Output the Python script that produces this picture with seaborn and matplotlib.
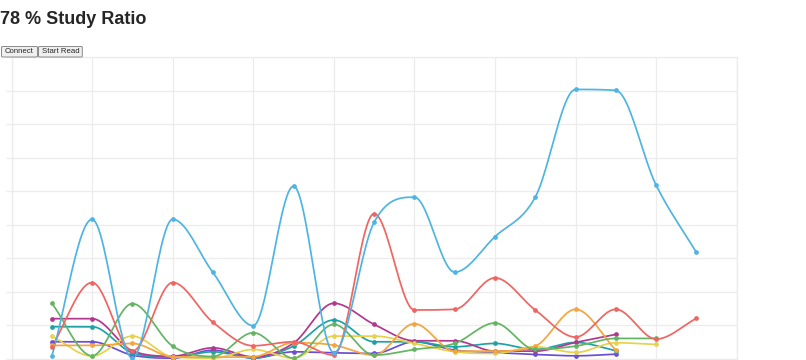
"""Study ratio chart: eight smoothed series on a light grid, with a page-like header."""

import matplotlib

matplotlib.use("Agg")

import matplotlib.pyplot as plt  # noqa: E402
import numpy as np  # noqa: E402
import pandas as pd  # noqa: E402
import seaborn as sns  # noqa: E402
from matplotlib.patches import FancyBboxPatch  # noqa: E402

TITLE = "78 % Study Ratio"
BUTTONS = ["Connect", "Start Read"]

# series values (one grid step = 10)
blue = [0.7, 41.6, 0.1, 41.6, 25.7, 9.8, 51.5, 1.7, 40.7, 48.2, 25.8, 36.4, 48.2, 80.4, 80.1, 51.8, 31.7]
red = [3.5, 22.7, 2.2, 22.7, 10.8, 3.8, 5.0, 1.0, 43.3, 14.5, 14.7, 24.1, 14.5, 6.4, 14.7, 5.8, 12.0]
green = [16.5, 0.8, 16.4, 3.7, 0.6, 7.7, 0.1, 10.2, 1.0, 2.7, 4.5, 10.6, 2.7, 3.7, 6.0, 6.0]
orange = [3.9, 3.9, 4.5, 0.5, 0.4, 0.5, 4.7, 4.0, 1.0, 10.4, 2.2, 2.2, 3.7, 14.7, 2.5]
yellow = [6.7, 0.7, 6.7, 0.5, 0.1, 2.7, 0.1, 6.7, 6.7, 4.5, 2.0, 1.5, 3.5, 1.8, 4.7, 4.2]
magenta = [11.9, 11.9, 2.3, 0.7, 3.2, 0.5, 4.6, 16.5, 10.2, 5.3, 5.3, 2.2, 2.2, 4.8, 7.2]
teal = [9.5, 9.5, 1.7, 0.4, 2.0, 0.2, 3.7, 11.5, 5.0, 5.0, 3.5, 4.5, 2.7, 4.8, 2.3]
violet = [5.0, 5.0, 1.0, 0.1, 2.5, 0.1, 2.0, 1.7, 1.5, 5.0, 2.5, 1.8, 1.2, 0.8, 1.3]

series = {
    "violet": violet,
    "teal": teal,
    "magenta": magenta,
    "yellow": yellow,
    "orange": orange,
    "green": green,
    "red": red,
    "blue": blue,
}
colors = {
    "blue": "#4fb4e2",
    "red": "#ef6562",
    "green": "#63b563",
    "orange": "#f5a53f",
    "yellow": "#e6d24c",
    "magenta": "#b2388e",
    "teal": "#1fa2a6",
    "violet": "#6a4ed6",
}


def monotone_tangents(y):
    """Fritsch-Carlson tangents, as used by monotone cubic interpolation."""
    y = np.asarray(y, dtype=float)
    d = np.diff(y)
    m = np.zeros(len(y))
    m[0], m[-1] = d[0], d[-1]
    for i in range(1, len(y) - 1):
        if d[i - 1] * d[i] > 0:
            m[i] = (d[i - 1] + d[i]) / 2
    for i in range(len(d)):
        if d[i] == 0:
            m[i] = m[i + 1] = 0
            continue
        a, b = m[i] / d[i], m[i + 1] / d[i]
        mag = a * a + b * b
        if mag > 9:
            tau = 3 / np.sqrt(mag)
            m[i], m[i + 1] = tau * a * d[i], tau * b * d[i]
    return m


def smooth(y, steps=24):
    y = np.asarray(y, dtype=float)
    m = monotone_tangents(y)
    xs, ys = [], []
    t = np.linspace(0, 1, steps, endpoint=False)
    for i in range(len(y) - 1):
        h00 = 2 * t**3 - 3 * t**2 + 1
        h10 = t**3 - 2 * t**2 + t
        h01 = -2 * t**3 + 3 * t**2
        h11 = t**3 - t**2
        xs.extend(i + t)
        ys.extend(h00 * y[i] + h10 * m[i] + h01 * y[i + 1] + h11 * m[i + 1])
    xs.append(len(y) - 1)
    ys.append(y[-1])
    return xs, ys


curve_rows, point_rows = [], []
for name, vals in series.items():
    cx, cy = smooth(vals)
    curve_rows.append(pd.DataFrame({"x": cx, "y": cy, "series": name}))
    point_rows.append(pd.DataFrame({"x": np.arange(len(vals)), "y": vals, "series": name}))
curves = pd.concat(curve_rows, ignore_index=True)
points = pd.concat(point_rows, ignore_index=True)

sns.set_style("white")
plt.rcParams["font.family"] = ["Liberation Sans", "DejaVu Sans"]

fig = plt.figure(figsize=(8.06, 3.6), dpi=100)
W, H = 806, 360
ax = fig.add_axes([11.5 / W, 1.5 / H, (736.7 - 11.5) / W, (358.5 - 57.3) / H])

grid_c = "#ececec"
for name in series:
    sub_c = curves[curves["series"] == name]
    sns.lineplot(data=sub_c, x="x", y="y", color=colors[name], lw=1.25,
                 estimator=None, sort=False, ax=ax, legend=False, zorder=3)
    sub_p = points[points["series"] == name]
    sns.scatterplot(data=sub_p, x="x", y="y", color=colors[name], s=8,
                    edgecolor=colors[name], linewidth=0.5, ax=ax, legend=False, zorder=4)

ax.set_xlim(-1, 17)
ax.set_ylim(0, 90)
ax.set_xticks(np.arange(-1, 18, 2))
ax.set_yticks(np.arange(0, 91, 10))
ax.set_xticklabels([])
ax.set_yticklabels([])
ax.set_xlabel("")
ax.set_ylabel("")
ax.grid(True, color=grid_c, lw=0.9)
ax.set_axisbelow(True)
ax.tick_params(axis="both", length=4, color=grid_c, width=0.9, left=True, bottom=True)
for sp in ax.spines.values():
    sp.set_color(grid_c)
    sp.set_linewidth(0.9)

fig.text(0.5 / W, 1 - 24.5 / H, TITLE, fontsize=13, fontweight="bold", va="baseline", ha="left")

# header buttons
btn_edges = [(1.5, 37.5), (38.5, 82.3)]
for label, (x0, x1) in zip(BUTTONS, btn_edges):
    box = FancyBboxPatch((x0 / W, 1 - 57 / H), (x1 - x0) / W, 10.5 / H,
                         boxstyle="round,pad=0,rounding_size=0.002", transform=fig.transFigure,
                         fc="#efefef", ec="#8a8a8a", lw=0.7)
    fig.patches.append(box)
    fig.text((x0 + x1) / 2 / W, 1 - 51.8 / H, label, fontsize=5.6, ha="center", va="center")

fig.savefig("out.png", dpi=100)
